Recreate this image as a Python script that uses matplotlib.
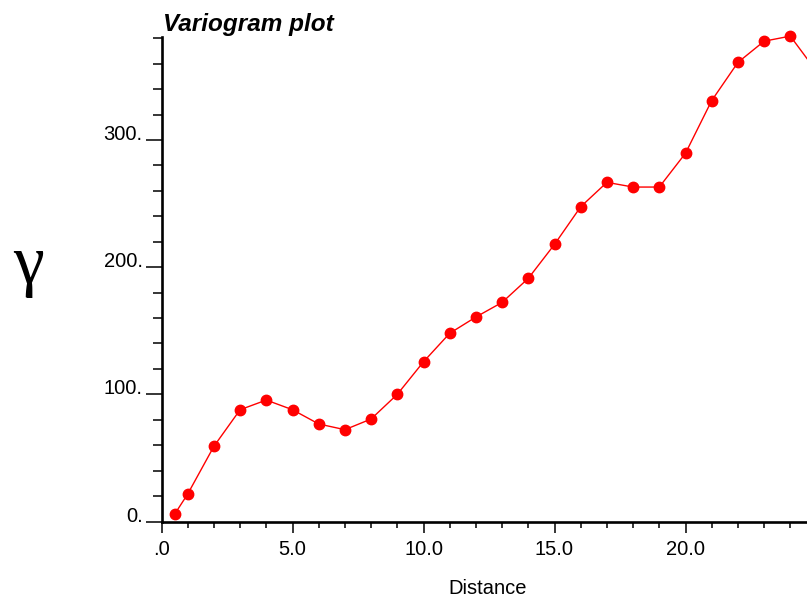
import matplotlib
matplotlib.use("Agg")
import matplotlib.pyplot as plt
from matplotlib.ticker import FixedLocator, MultipleLocator

plt.rcParams['font.family'] = ['Liberation Sans', 'DejaVu Sans']

# Data
distance = [0.5, 1, 2, 3, 4, 5, 6, 7, 8, 9, 10, 11, 12, 13, 14, 15, 16, 17, 18, 19, 20, 21, 22, 23, 24, 25]
gamma = [5.7, 21.6, 59.1, 87.9, 95.5, 87.9, 76.7, 72.2, 80.6, 100.0, 125.6, 148.0, 160.8, 172.3, 191.2,
         217.9, 247.5, 266.7, 263.0, 263.0, 289.6, 331.0, 361.0, 377.7, 381.7, 354.0]
x_ticks = [0, 5, 10, 15, 20]
x_tick_labels = ['.0', '5.0', '10.0', '15.0', '20.0']
y_ticks = [0, 100, 200, 300]
y_tick_labels = ['0.', '100.', '200.', '300.']

W, H = 807, 599
fig = plt.figure(figsize=(W / 100, H / 100), dpi=100)
x0, y0 = 161.5, 521.5
ytop = 37
ax = fig.add_axes([x0 / W, 1 - y0 / H, 655 / W, (y0 - ytop) / H])

ax.plot(distance, gamma, color='#ff0000', lw=1.0, marker='o', ms=7.5, mfc='#ff0000', mec='#ff0000', clip_on=False)

ax.set_xlim(0, 25)
ax.set_ylim(0, 381)

for s in ['top', 'right']:
    ax.spines[s].set_visible(False)
for s in ['left', 'bottom']:
    ax.spines[s].set_linewidth(1.9)
    ax.spines[s].set_color('black')

ax.xaxis.set_major_locator(FixedLocator(x_ticks))
ax.set_xticklabels(x_tick_labels)
ax.xaxis.set_minor_locator(MultipleLocator(1))
ax.yaxis.set_major_locator(FixedLocator(y_ticks))
ax.set_yticklabels(y_tick_labels)
ax.yaxis.set_minor_locator(MultipleLocator(20))

ax.tick_params(axis='x', which='major', direction='out', length=8, width=1.1, labelsize=14.5, pad=5)
ax.tick_params(axis='x', which='minor', direction='out', length=4.5, width=1.1)
ax.tick_params(axis='y', which='major', direction='out', length=11.5, width=1.1, labelsize=14.5, pad=2)
ax.tick_params(axis='y', which='minor', direction='out', length=6.5, width=1.1)
for lab in ax.get_yticklabels():
    lab.set_verticalalignment('baseline')

fig.text(163 / W, 1 - 31.5 / H, 'Variogram plot', fontsize=17.5, fontweight='bold', fontstyle='italic',
         ha='left', va='baseline')
fig.text(488 / W, 1 - 588 / H, 'Distance', fontsize=14.5, ha='center', va='center')
fig.text(28 / W, 1 - 266 / H, 'γ', fontsize=50, family=['Liberation Serif', 'DejaVu Serif'], ha='center', va='center')

fig.savefig('out.png', dpi=100)
